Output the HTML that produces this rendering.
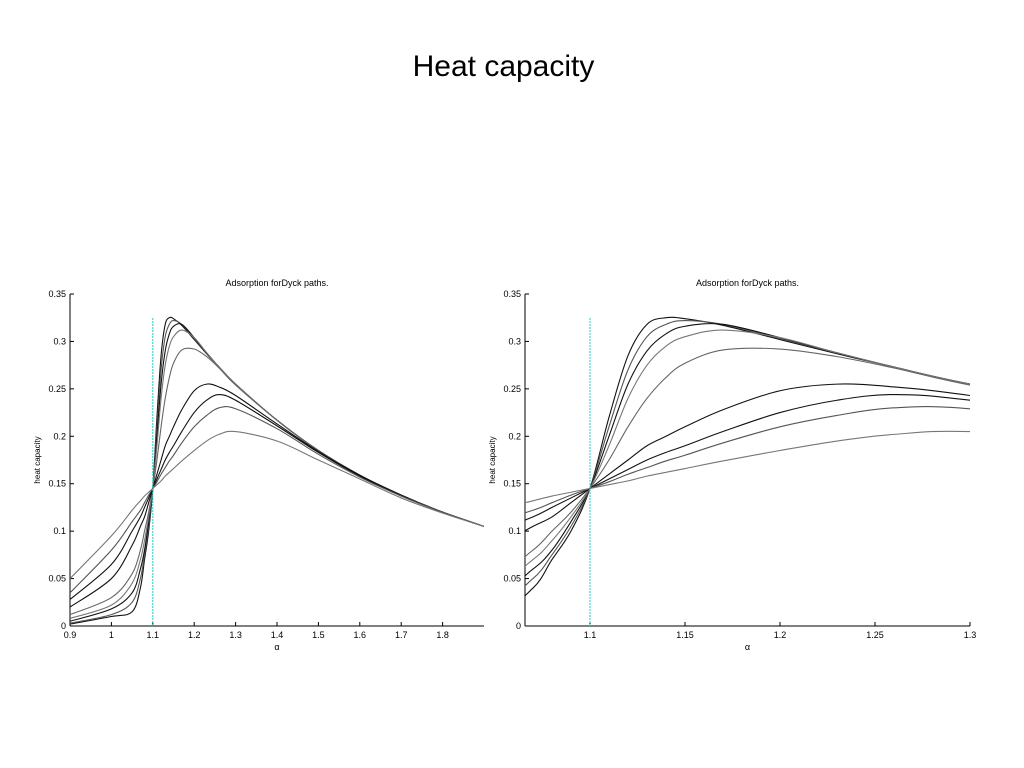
<!DOCTYPE html>
<html><head><meta charset="utf-8"><style>
body{margin:0;background:#fff;width:1024px;height:768px;overflow:hidden;font-family:"Liberation Sans",sans-serif}
</style></head><body>
<div style="position:absolute;left:0;width:1007px;top:50px;text-align:center;font-size:30px;">Heat capacity</div>
<svg id="svg" width="1024" height="768" style="position:absolute;left:0;top:0"></svg>
<script>
const grid=[0.9,1.0,1.05,1.07,1.08,1.09,1.1,1.11,1.12,1.13,1.14,1.15,1.17,1.2,1.23,1.26,1.3,1.4,1.5,1.6,1.7,1.8,1.9];
const curveA=[0.002,0.01,0.015,0.04,0.07,0.1,0.145,0.22,0.285,0.318,0.325,0.324,0.317,0.302,0.287,0.273,0.255,0.217,0.185,0.159,0.138,0.12,0.105];
const curveB=[0.003,0.012,0.025,0.05,0.075,0.105,0.145,0.21,0.27,0.305,0.318,0.322,0.318,0.303,0.288,0.273,0.255,0.217,0.185,0.159,0.138,0.12,0.105];
const curveC=[0.005,0.018,0.035,0.06,0.08,0.11,0.145,0.2,0.255,0.29,0.308,0.316,0.318,0.304,0.288,0.273,0.255,0.217,0.185,0.159,0.138,0.12,0.105];
const curveD=[0.008,0.022,0.045,0.07,0.09,0.115,0.145,0.19,0.24,0.275,0.295,0.305,0.312,0.304,0.288,0.273,0.255,0.217,0.185,0.159,0.138,0.12,0.105];
const curveE=[0.012,0.03,0.055,0.08,0.1,0.12,0.145,0.175,0.21,0.24,0.262,0.277,0.291,0.292,0.284,0.272,0.254,0.217,0.185,0.159,0.138,0.12,0.105];
const curveF=[0.02,0.05,0.085,0.105,0.115,0.13,0.145,0.16,0.175,0.19,0.2,0.21,0.228,0.248,0.255,0.252,0.243,0.213,0.184,0.159,0.138,0.12,0.105];
const curveG=[0.028,0.065,0.1,0.115,0.125,0.135,0.145,0.155,0.165,0.175,0.183,0.19,0.205,0.225,0.238,0.244,0.238,0.211,0.183,0.158,0.137,0.12,0.105];
const curveH=[0.035,0.08,0.11,0.122,0.13,0.138,0.145,0.152,0.16,0.167,0.174,0.18,0.193,0.21,0.222,0.23,0.229,0.208,0.181,0.157,0.137,0.12,0.105];
const curveI=[0.05,0.095,0.122,0.132,0.137,0.141,0.145,0.149,0.153,0.158,0.162,0.166,0.174,0.185,0.195,0.202,0.205,0.195,0.175,0.155,0.135,0.119,0.105];
const curves=[curveA,curveB,curveC,curveD,curveE,curveF,curveG,curveH,curveI];
const colors=["#111","#555","#111","#777","#666","#111","#111","#555","#777"];
const yTicks=[0,0.05,0.1,0.15,0.2,0.25,0.3,0.35];
const xTicksL=[0.9,1,1.1,1.2,1.3,1.4,1.5,1.6,1.7,1.8];
const xTicksR=[1.1,1.15,1.2,1.25,1.3];
const vline=1.1;
const svg=document.getElementById('svg');
const NS='http://www.w3.org/2000/svg';
function mk(t,a,p){const e=document.createElementNS(NS,t);for(const k in a)e.setAttribute(k,a[k]);(p||svg).appendChild(e);return e;}
function chart(id,x0,x1,xmin,xmax,xt){
 const y0=626,y1=294;
 const X=v=>x0+(v-xmin)/(xmax-xmin)*(x1-x0), Y=v=>y0-v/0.35*(y0-y1);
 const g=mk('g',{});
 
 
 mk('clipPath',{id:'c'+id},g);
 mk('rect',{x:x0,y:y1-10,width:x1-x0,height:y0-y1+10},g.lastChild);
 mk('line',{x1:x0,y1:y0,x2:x0,y2:y1,stroke:'#000','stroke-width':1},g);
 mk('line',{x1:x0,y1:y0,x2:x1,y2:y0,stroke:'#000','stroke-width':1},g);
 yTicks.forEach(v=>{mk('line',{x1:x0,x2:x0+4,y1:Y(v),y2:Y(v),stroke:'#000'},g);
  const t=mk('text',{x:x0-4,y:Y(v)+3,'text-anchor':'end','font-size':9},g);t.textContent=v;
  });
 xt.forEach(v=>{mk('line',{x1:X(v),x2:X(v),y1:y0,y2:y0-4,stroke:'#000'},g);
  const t=mk('text',{x:X(v),y:y0+12,'text-anchor':'middle','font-size':9},g);t.textContent=v;
  });
 let t=mk('text',{x:(x0+x1)/2,y:286,'text-anchor':'middle','font-size':9},g);t.textContent='Adsorption forDyck paths.';
 
 t=mk('text',{x:(x0+x1)/2,y:650,'text-anchor':'middle','font-size':9},g);t.textContent='α';
 
 t=mk('text',{x:0,y:0,'text-anchor':'middle','font-size':8,transform:`translate(${x0-30},460) rotate(-90)`},g);t.textContent='heat capacity';
 
 const cg=mk('g',{'clip-path':`url(#c${id})`},g);
 curves.forEach((c,i)=>{
  const p=grid.map((x,j)=>[X(x),Y(c[j])]);
  let d='M'+p[0][0]+','+p[0][1];
  for(let j=0;j<p.length-1;j++){const a=p[Math.max(j-1,0)],b=p[j],cc=p[j+1],e=p[Math.min(j+2,p.length-1)];
   d+=`C${b[0]+(cc[0]-a[0])/6},${b[1]+(cc[1]-a[1])/6} ${cc[0]-(e[0]-b[0])/6},${cc[1]-(e[1]-b[1])/6} ${cc[0]},${cc[1]}`;}
  const el=mk('path',{d:d,fill:'none',stroke:colors[i],'stroke-width':1.1},cg);
  
  
 });
 const vl=mk('line',{x1:X(vline),x2:X(vline),y1:y0,y2:Y(0.325),stroke:'#2cc','stroke-width':1,'stroke-dasharray':'2,1'},g);
 
 
}
chart('left-chart',70,484,0.9,1.9,xTicksL);
chart('right-chart',525,970,1.0658,1.3,xTicksR);
</script>
</body></html>
